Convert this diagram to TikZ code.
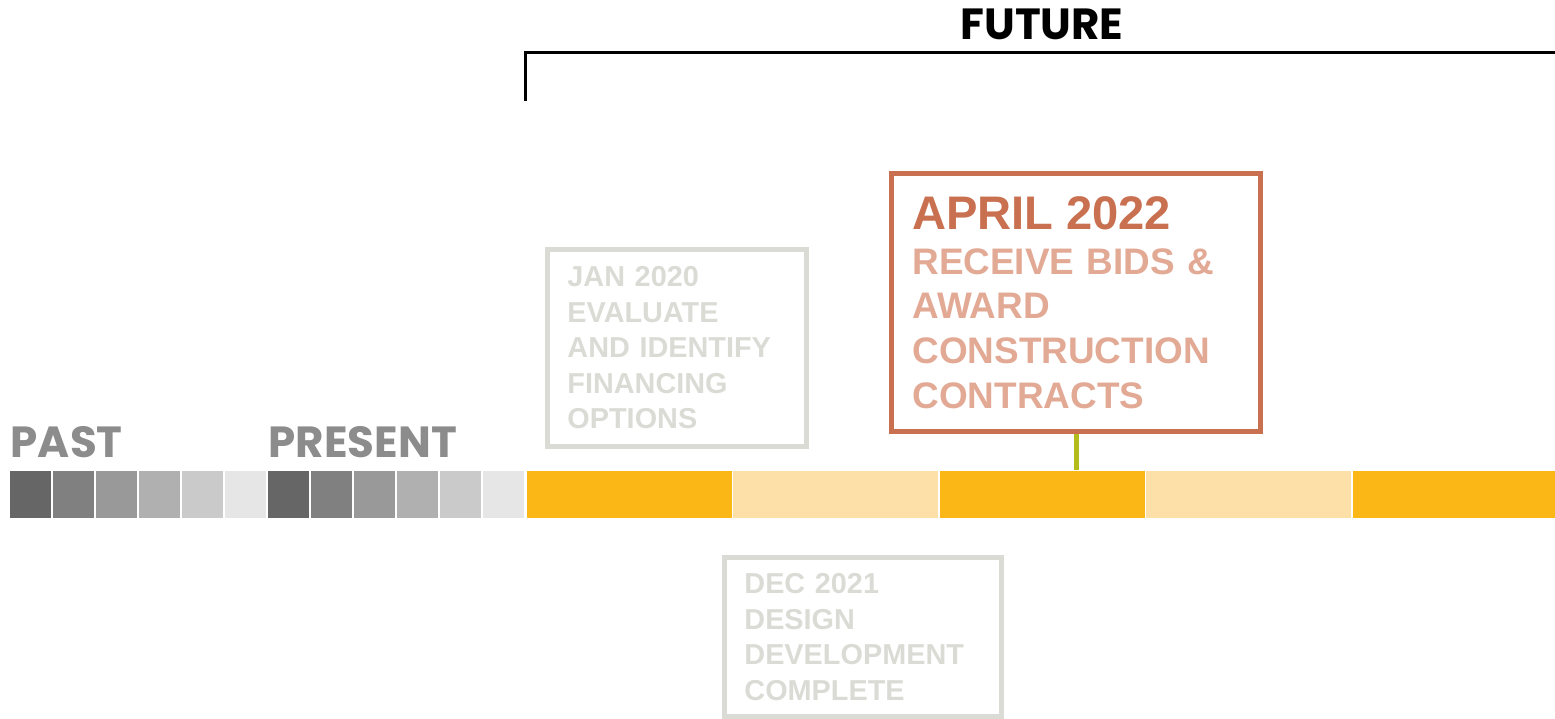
\documentclass[tikz,border=0pt]{standalone}
\usepackage{fontspec}
\setmainfont{Liberation Sans}
\newfontfamily\headfont{Poppins}
\definecolor{barDark}{HTML}{FBB716}
\definecolor{barLight}{HTML}{FCE0A8}
\definecolor{fadeGray}{HTML}{DBDBD6}
\definecolor{aprilRust}{HTML}{C8704F}
\definecolor{aprilPale}{HTML}{E2A995}
\definecolor{stemGreen}{HTML}{B4BC1C}
\definecolor{headGray}{HTML}{8C8C8C}

\begin{document}
\begin{tikzpicture}
[x=0.01cm,y=-0.01cm,
  squareDecorate/.style={inner sep=0pt,minimum width=0.41cm,minimum height=0.47cm},
  segDecorate/.style={inner sep=0pt,minimum width=2.045cm,minimum height=0.47cm},
  boxDecorate/.style={draw,line width=0.05cm,inner xsep=0.2cm,inner ysep=0pt,
    align=left,font=\bfseries\fontsize{8.2}{10.1}\selectfont},
  headDecorate/.style={font=\headfont\bfseries\fontsize{12.4}{14}\selectfont,
    inner sep=0pt,anchor=base west},
  lineDecorate/.style={-,line width=0.03cm}]
\useasboundingbox (0,0) rectangle (1555,719);
%% past and present squares
\foreach \i/\shade in {0/666666, 1/808080, 2/999999, 3/B0B0B0, 4/CACACA, 5/E6E6E6} {
  \definecolor{sq}{HTML}{\shade}
  \node (past\i) at (30.5+43*\i,494.5) [squareDecorate,fill=sq] {};
  \node (pres\i) at (288.5+43*\i,494.5) [squareDecorate,fill=sq] {};
}
%% future bar
\foreach \i/\tone in {1/barDark, 2/barLight, 3/barDark, 4/barLight, 5/barDark} {
  \node (seg\i) at (629.25+206.5*\i-206.5,494.5) [segDecorate,fill=\tone] {};
}
%% headings
\node (past) at (10,458) [headDecorate,text=headGray] {PAST};
\node (present) at (268,458) [headDecorate,text=headGray] {PRESENT};
\node (future) at (1042,40) [headDecorate,anchor=base] {FUTURE};
\coordinate (futL) at (525,101);
\coordinate (futC) at (525,53);
\coordinate (futR) at (1555,53);
\draw[lineDecorate] (futL) -- (futC) -- (futR);
%% milestone boxes
\node (jan) at (677,348) [boxDecorate,draw=fadeGray,text=fadeGray,
  minimum width=2.59cm,minimum height=1.97cm,text width=2.19cm]
  {JAN 2020\\EVALUATE\\AND IDENTIFY\\FINANCING\\OPTIONS};
\node (dec) at (863,637) [boxDecorate,draw=fadeGray,text=fadeGray,
  minimum width=2.77cm,minimum height=1.59cm,text width=2.37cm]
  {DEC 2021\\DESIGN\\DEVELOPMENT\\COMPLETE};
\node (april) at (1076,302.5) [boxDecorate,draw=aprilRust,text=aprilPale,
  minimum width=3.69cm,minimum height=2.58cm,text width=3.27cm,inner xsep=0.21cm,
  font=\bfseries\fontsize{10.5}{12.7}\selectfont]
  {{\color{aprilRust}\fontsize{13.4}{13}\selectfont APRIL 2022}\\RECEIVE BIDS \&\\AWARD\\CONSTRUCTION\\CONTRACTS};
\draw[stemGreen,line width=0.05cm] (april.south) -- (april.south |- seg3.north);
\end{tikzpicture}
\end{document}
